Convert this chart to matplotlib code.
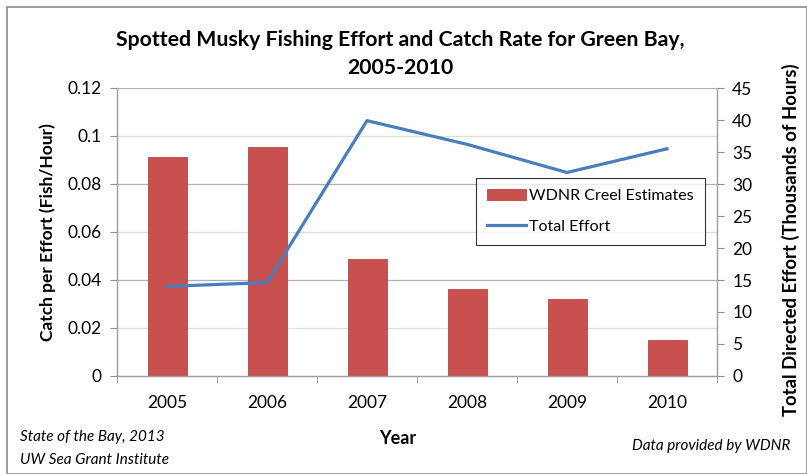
import matplotlib
matplotlib.use("Agg")
import matplotlib.pyplot as plt
import numpy as np
from matplotlib.patches import Rectangle

years = ["2005", "2006", "2007", "2008", "2009", "2010"]
catch_rate = [0.0914, 0.0955, 0.0488, 0.0363, 0.0320, 0.0149]
total_effort = [14.0, 14.6, 39.9, 36.2, 31.8, 35.5]
left_ticks = [0, 0.02, 0.04, 0.06, 0.08, 0.1, 0.12]
left_labels = ["0", "0.02", "0.04", "0.06", "0.08", "0.1", "0.12"]
right_ticks = [0, 5, 10, 15, 20, 25, 30, 35, 40, 45]

plt.rcParams['font.family'] = ['Lato', 'DejaVu Sans']

W, H = 807, 474
fig = plt.figure(figsize=(W / 100, H / 100), dpi=100)
fig.patch.set_facecolor("white")

ax = fig.add_axes([117 / W, 1 - 376 / H, 600 / W, 288 / H])
x = np.arange(len(years))

# gridlines
for t in left_ticks[1:]:
    col = "#b0b0b0" if abs((t / 0.04) - round(t / 0.04)) < 1e-6 else "#dedede"
    ax.axhline(t, color=col, lw=0.9, zorder=0)

bar_color = "#C8504E"
ax.bar(x, catch_rate, width=0.39, color=bar_color, edgecolor="#B84644", lw=0.6, zorder=2,
       label="WDNR Creel Estimates")
ax.set_xlim(-0.5, len(years) - 0.5)
ax.set_ylim(0, 0.12)
ax.set_yticks(left_ticks)
ax.set_yticklabels(left_labels)
ax.set_xticks(x)
ax.set_xticklabels(years)
ax.set_xticks(np.arange(-0.5, len(years)), minor=True)
ax.tick_params(axis="x", which="major", length=0, labelsize=12.5, pad=14)
ax.tick_params(axis="x", which="minor", length=5, color="#909090", direction="out")
ax.tick_params(axis="y", length=5, color="#909090", labelsize=12.5, pad=6)
ax.spines["top"].set_visible(False)
for s in ["left", "bottom", "right"]:
    ax.spines[s].set_color("#a0a0a0")
    ax.spines[s].set_linewidth(0.9)

ax2 = ax.twinx()
ln, = ax2.plot(x, total_effort, color="#4A7EBB", lw=2.3, zorder=3, label="Total Effort")
ax2.set_ylim(0, 45)
ax2.set_yticks(right_ticks)
ax2.tick_params(axis="y", length=5, color="#909090", labelsize=12.5, pad=6)
ax2.spines["top"].set_visible(False)
for s in ["left", "bottom", "right"]:
    ax2.spines[s].set_color("#a0a0a0")
    ax2.spines[s].set_linewidth(0.9)

ax.set_ylabel("Catch per Effort (Fish/Hour)", fontsize=12.5, fontweight="bold", labelpad=8)
ax2.set_ylabel("Total Directed Effort (Thousands of Hours)", fontsize=13.3, fontweight="bold")
ax2.yaxis.set_label_coords((782 - 117) / 600, (376 - 240) / 288)

# legend
h1, l1 = ax.get_legend_handles_labels()
leg = ax2.legend(h1 + [ln], l1 + ["Total Effort"], loc="upper left",
                 bbox_to_anchor=(476 / W, 1 - 178 / H), bbox_transform=fig.transFigure,
                 fontsize=11.5, frameon=True, fancybox=False, edgecolor="black",
                 handlelength=2.4, handletextpad=0.2, borderpad=0.7, labelspacing=1.0,
                 borderaxespad=0)
leg.get_frame().set_linewidth(0.8)

fig.text(400 / W, 1 - 40 / H, "Spotted Musky Fishing Effort and Catch Rate for Green Bay,",
         ha="center", va="center", fontsize=15.3, fontweight="bold")
fig.text(400 / W, 1 - 68 / H, "2005-2010", ha="center", va="center", fontsize=15.3,
         fontweight="bold")
fig.text(398 / W, 1 - 438 / H, "Year", ha="center", va="center", fontsize=13, fontweight="bold")
fig.text(20 / W, 1 - 437 / H, "State of the Bay, 2013", ha="left", va="center",
         fontsize=11, style="italic")
fig.text(20 / W, 1 - 460 / H, "UW Sea Grant Institute", ha="left", va="center",
         fontsize=11, style="italic")
fig.text(790 / W, 1 - 446 / H, "Data provided by WDNR", ha="right", va="center",
         fontsize=11, style="italic")

fig.patches.append(Rectangle((7 / W, 0 / H), (W - 7) / W, (H - 7) / H, transform=fig.transFigure,
                             fill=False, edgecolor="#8c8c8c", lw=1.2))

fig.savefig("out.png", dpi=100)
